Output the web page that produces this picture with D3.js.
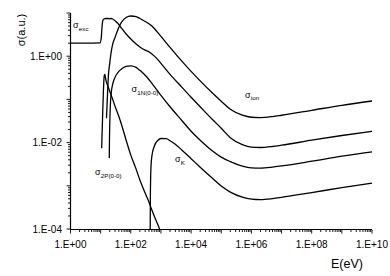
<!DOCTYPE html>
<html><head><meta charset="utf-8">
<script src="https://cdn.jsdelivr.net/npm/d3@7"></script>
<style>body{margin:0;background:#fff}svg{display:block;font-family:Arial,"Liberation Sans",sans-serif}</style>
</head><body><svg id="c" width="390" height="276"></svg>
<script>
// ---- data (E in eV, sigma in arbitrary units) ----
const ionE   = [15.6,17,18,20,22,25,30,40,50,70,100,150,200,300,500,1000,2000,5000,1e4,2e4,5e4,1e5,2e5,5e5,1e6,2e6,5e6,1e7,1e8,1e9,1e10];
const ionS   = [0.0367,0.146,0.341,0.682,1.16,1.87,2.72,4.63,6.20,7.87,8.53,8.22,7.46,6.36,5.01,2.87,1.60,0.759,0.446,0.269,0.142,0.0903,0.0590,0.0430,0.0386,0.0380,0.0401,0.0430,0.0560,0.0731,0.0918];
const excE   = [1,3,9.5,10.5,11,11.5,12,13,15,18,20,22,25,28,32,40,50,70,100,150,200,300,400,500,700,1000,2000,5000,1e4,2e4,5e4,1e5,2e5,5e5,1e6,2e6,5e6,1e7,1e8,1e9,1e10];
const excS   = [2.00,2.00,2.03,2.72,4.39,6.04,6.89,7.27,7.46,7.46,7.35,7.46,7.27,6.89,6.36,5.42,4.39,3.27,2.51,1.92,1.64,1.38,1.26,1.13,0.914,0.682,0.380,0.190,0.112,0.0675,0.0347,0.0215,0.0130,0.00896,0.00784,0.00771,0.00813,0.00871,0.01135,0.01459,0.0183];
const n1E    = [19.3,19.6,20,21,22,25,30,40,50,70,100,150,200,300,500,1000,2000,5000,1e4,2e4,5e4,1e5,2e5,5e5,1e6,2e6,5e6,1e7,1e8,1e9,1e10];
const n1S    = [0.00437,0.01135,0.0252,0.0731,0.124,0.223,0.324,0.446,0.509,0.581,0.597,0.551,0.470,0.361,0.236,0.124,0.0675,0.0321,0.0183,0.01135,0.00650,0.00460,0.00362,0.00285,0.00259,0.00256,0.00270,0.00288,0.00371,0.00485,0.00610];
const kE     = [440,445,455,470,500,600,800,1000,1500,2000,3000,5000,1e4,2e4,5e4,1e5,2e5,5e5,1e6,2e6,5e6,1e7,1e8,1e9,1e10];
const kS     = [0.0001,0.000468,0.00151,0.00301,0.00485,0.00826,0.01135,0.01245,0.0123,0.01107,0.00918,0.00667,0.00425,0.00270,0.00151,0.000984,0.000716,0.000548,0.000493,0.000480,0.000506,0.000540,0.000697,0.000908,0.00115];
const p2E    = [10.8,11.5,12.3,13,13.5,14,15,17,20,25,30,40,50,70,100,150,200,300,400,500,700,900,1000];
const p2S    = [0.00743,0.0329,0.146,0.324,0.380,0.361,0.276,0.212,0.154,0.1005,0.0693,0.0407,0.0252,0.01135,0.00512,0.00243,0.00136,0.000677,0.000421,0.000275,0.000153,0.0001,0.00008];

const xTickValues = [1,1e2,1e4,1e6,1e8,1e10];
const xTickLabels = ["1.E+00","1.E+02","1.E+04","1.E+06","1.E+08","1.E+10"];
const yTickValues = [1e-4,1e-2,1];
const yTickLabels = ["1.E-04","1.E-02","1.E+00"];

const svg = d3.select("#c");
const x = d3.scaleLog().domain([1,1e10]).range([70.5,372]);
const y = d3.scaleLog().domain([1e-4,10]).range([229,13]);

svg.append("defs").append("clipPath").attr("id","clip")
  .append("rect").attr("x",70.5).attr("y",12).attr("width",302).attr("height",217);

function logTicks(lo,hi){const a=[];for(let e=lo;e<=hi;e++){for(let m=1;m<=9;m++){const v=m*Math.pow(10,e);if(e===hi&&m>1)break;a.push({v,major:m===1});}}return a;}
const g = svg.append("g").attr("stroke","#000").attr("fill","none");
g.append("line").attr("x1",x(1)).attr("x2",x(1e10)).attr("y1",229.5).attr("y2",229.5).attr("stroke-width",1.2);
logTicks(0,10).forEach(t=>{g.append("line").attr("x1",x(t.v)).attr("x2",x(t.v)).attr("y1",229.5).attr("y2",229.5+(t.major?4:2.5)).attr("stroke-width",0.9);});
g.append("line").attr("x1",70.5).attr("x2",70.5).attr("y1",y(10)).attr("y2",229.5).attr("stroke-width",1.2);
logTicks(-4,1).forEach(t=>{g.append("line").attr("x1",70.5).attr("x2",70.5-(t.major?4:2.5)).attr("y1",y(t.v)).attr("y2",y(t.v)).attr("stroke-width",0.9);});

const tx = svg.append("g").attr("font-size","10px").attr("fill","#000");
xTickValues.forEach((v,i)=>tx.append("text").attr("x",x(v)).attr("y",248).attr("text-anchor","middle").text(xTickLabels[i]));
yTickValues.forEach((v,i)=>tx.append("text").attr("x",62).attr("y",y(v)+3.5).attr("text-anchor","end").text(yTickLabels[i]));

svg.append("text").attr("x",347).attr("y",268).attr("text-anchor","middle").attr("font-size","12.5px").attr("fill","#000").text("E(eV)");
svg.append("text").attr("transform","translate(25,30) rotate(-90)").attr("text-anchor","middle").attr("font-size","11px").attr("fill","#000").text("σ(a.u.)");

const line = d3.line().x(d=>x(d[0])).y(d=>y(d[1])).curve(d3.curveMonotoneX);
const curves = [[ionE,ionS],[excE,excS],[n1E,n1S],[kE,kS],[p2E,p2S]];
const cg = svg.append("g").attr("clip-path","url(#clip)");
curves.forEach(([E,S])=>{
  cg.append("path").datum(E.map((e,i)=>[e,S[i]])).attr("d",line)
    .attr("fill","none").attr("stroke","#000").attr("stroke-width",1.3).attr("stroke-linejoin","round");
});

function lab(xp,yp,sub){
  const t=svg.append("text").attr("x",xp).attr("y",yp).attr("font-size","9px").attr("fill","#000");
  t.append("tspan").text("σ");
  t.append("tspan").attr("font-size","6.2px").attr("dy",2.5).attr("dx",0.3).text(sub);
}
lab(73,28.3,"exc");
lab(245,97.5,"ion");
lab(131.5,92,"1N(0-0)");
lab(175,162,"K");
lab(95,175,"2P(0-0)");
</script></body></html>
